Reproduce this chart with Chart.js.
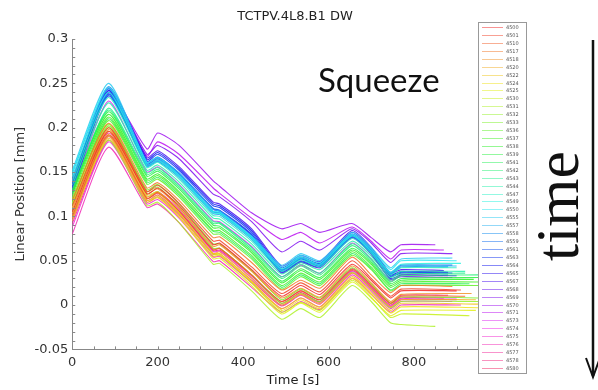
<!DOCTYPE html>
<html>
<head>
<meta charset="utf-8">
<script src="https://cdn.jsdelivr.net/npm/chart.js@4.4.1/dist/chart.umd.min.js"></script>
<style>
  body { margin: 0; background: #fff; }
  #wrap { width: 598px; height: 390px; }
</style>
</head>
<body>
<div id="wrap"><canvas id="posChart" width="598" height="390"></canvas></div>
<script>
// time stamps [s] shared by all fills; last point of each fill sits at endTimes[i]
const times = [0, 85, 175, 200, 250, 330, 345, 420, 490, 535, 580, 655, 700, 745, 770];
const endTimes = [900, 910, 920, 890, 935, 945, 950, 950, 945, 930, 850, 950, 950,
                  950, 950, 940, 950, 930, 950, 920,
                  920, 900, 910, 900, 890, 900, 880, 890,
                  880, 890, 880, 900, 870, 890, 890, 850, 870,
                  880, 900, 890, 910, 900, 880, 870];
const fillLabels = ['4500', '4501', '4510', '4517', '4518', '4520', '4522', '4524', '4525', '4530', '4531',
                    '4532', '4533', '4536', '4537', '4538', '4539', '4541', '4542', '4543', '4544', '4547',
                    '4549', '4550', '4555', '4557', '4558', '4559', '4561', '4563', '4564', '4565', '4567',
                    '4568', '4569', '4570', '4571', '4573', '4574', '4575', '4576', '4577', '4578', '4580'];
const xTickLabels = [0, 200, 400, 600, 800];
const yTickLabels = [-0.05, 0, 0.05, 0.1, 0.15, 0.2, 0.25, 0.3];

// linear position [mm], one row per fill (values at times[] then at endTimes[i])
const positions = [
  [0.105, 0.196, 0.125, 0.132, 0.112, 0.068, 0.070, 0.040, 0.010, 0.022, 0.012, 0.046, 0.028, 0.008, 0.016, 0.016],
  [0.112, 0.200, 0.128, 0.135, 0.115, 0.072, 0.073, 0.043, 0.013, 0.025, 0.015, 0.050, 0.030, 0.010, 0.018, 0.017],
  [0.100, 0.192, 0.120, 0.127, 0.106, 0.062, 0.064, 0.034, 0.004, 0.016, 0.006, 0.040, 0.022, 0.002, 0.010, 0.010],
  [0.118, 0.205, 0.132, 0.138, 0.118, 0.076, 0.077, 0.048, 0.017, 0.028, 0.019, 0.054, 0.034, 0.014, 0.022, 0.021],
  [0.108, 0.198, 0.126, 0.131, 0.110, 0.066, 0.068, 0.038, 0.008, 0.019, 0.009, 0.044, 0.025, 0.004, 0.012, 0.013],
  [0.098, 0.190, 0.118, 0.124, 0.103, 0.058, 0.060, 0.030, 0.000, 0.012, 0.002, 0.036, 0.018, -0.002, 0.006, 0.006],
  [0.095, 0.188, 0.116, 0.121, 0.100, 0.055, 0.056, 0.026, -0.004, 0.008, -0.002, 0.032, 0.014, -0.006, 0.002, 0.001],
  [0.110, 0.196, 0.122, 0.127, 0.104, 0.058, 0.058, 0.027, -0.006, 0.006, -0.004, 0.030, 0.012, -0.009, -0.002, -0.003],
  [0.104, 0.192, 0.118, 0.122, 0.099, 0.052, 0.053, 0.022, -0.010, 0.002, -0.008, 0.026, 0.008, -0.012, -0.006, -0.006],
  [0.115, 0.200, 0.124, 0.128, 0.104, 0.057, 0.057, 0.025, -0.008, 0.003, -0.006, 0.028, 0.009, -0.014, -0.010, -0.012],
  [0.100, 0.186, 0.112, 0.116, 0.093, 0.046, 0.047, 0.016, -0.016, -0.004, -0.014, 0.022, 0.004, -0.020, -0.022, -0.024],
  [0.120, 0.204, 0.128, 0.133, 0.110, 0.064, 0.064, 0.034, 0.002, 0.013, 0.004, 0.037, 0.018, -0.003, 0.004, 0.004],
  [0.113, 0.202, 0.130, 0.136, 0.114, 0.069, 0.069, 0.039, 0.006, 0.018, 0.008, 0.042, 0.024, 0.002, 0.009, 0.008],
  [0.118, 0.208, 0.136, 0.142, 0.122, 0.080, 0.080, 0.052, 0.018, 0.032, 0.022, 0.056, 0.040, 0.016, 0.022, 0.022],
  [0.122, 0.212, 0.140, 0.146, 0.126, 0.084, 0.084, 0.056, 0.022, 0.036, 0.026, 0.060, 0.043, 0.020, 0.026, 0.026],
  [0.125, 0.215, 0.142, 0.148, 0.128, 0.087, 0.087, 0.059, 0.025, 0.039, 0.029, 0.062, 0.046, 0.022, 0.028, 0.029],
  [0.128, 0.218, 0.145, 0.151, 0.131, 0.090, 0.089, 0.061, 0.027, 0.041, 0.031, 0.064, 0.048, 0.024, 0.030, 0.031],
  [0.115, 0.210, 0.138, 0.144, 0.124, 0.083, 0.082, 0.054, 0.020, 0.034, 0.024, 0.058, 0.041, 0.017, 0.024, 0.024],
  [0.130, 0.220, 0.147, 0.153, 0.133, 0.092, 0.092, 0.063, 0.030, 0.044, 0.034, 0.067, 0.050, 0.026, 0.033, 0.034],
  [0.126, 0.222, 0.149, 0.155, 0.135, 0.094, 0.093, 0.065, 0.032, 0.046, 0.036, 0.069, 0.052, 0.028, 0.035, 0.036],
  [0.135, 0.228, 0.152, 0.158, 0.139, 0.098, 0.097, 0.069, 0.035, 0.048, 0.040, 0.072, 0.055, 0.031, 0.038, 0.038],
  [0.140, 0.234, 0.155, 0.161, 0.142, 0.101, 0.100, 0.072, 0.038, 0.051, 0.043, 0.075, 0.058, 0.034, 0.042, 0.042],
  [0.145, 0.240, 0.158, 0.164, 0.145, 0.104, 0.103, 0.075, 0.041, 0.054, 0.046, 0.078, 0.061, 0.037, 0.046, 0.047],
  [0.150, 0.246, 0.160, 0.166, 0.147, 0.106, 0.105, 0.077, 0.043, 0.056, 0.048, 0.080, 0.063, 0.040, 0.050, 0.050],
  [0.152, 0.250, 0.161, 0.167, 0.149, 0.108, 0.106, 0.078, 0.045, 0.058, 0.050, 0.082, 0.065, 0.042, 0.052, 0.053],
  [0.148, 0.244, 0.157, 0.163, 0.146, 0.105, 0.104, 0.076, 0.040, 0.053, 0.045, 0.079, 0.060, 0.036, 0.044, 0.044],
  [0.143, 0.238, 0.156, 0.162, 0.144, 0.103, 0.102, 0.074, 0.039, 0.052, 0.044, 0.077, 0.059, 0.035, 0.043, 0.043],
  [0.138, 0.236, 0.157, 0.164, 0.146, 0.105, 0.104, 0.076, 0.040, 0.053, 0.046, 0.078, 0.061, 0.037, 0.045, 0.045],
  [0.130, 0.240, 0.160, 0.167, 0.149, 0.109, 0.107, 0.080, 0.038, 0.050, 0.044, 0.078, 0.060, 0.032, 0.036, 0.035],
  [0.132, 0.242, 0.162, 0.170, 0.152, 0.112, 0.110, 0.082, 0.040, 0.052, 0.046, 0.080, 0.062, 0.033, 0.037, 0.036],
  [0.134, 0.244, 0.164, 0.172, 0.154, 0.114, 0.112, 0.084, 0.042, 0.054, 0.047, 0.082, 0.063, 0.034, 0.038, 0.037],
  [0.128, 0.238, 0.159, 0.166, 0.148, 0.108, 0.106, 0.079, 0.037, 0.049, 0.043, 0.077, 0.058, 0.030, 0.034, 0.033],
  [0.136, 0.246, 0.166, 0.174, 0.156, 0.116, 0.114, 0.086, 0.044, 0.056, 0.049, 0.084, 0.065, 0.036, 0.040, 0.039],
  [0.126, 0.236, 0.158, 0.165, 0.148, 0.108, 0.106, 0.078, 0.036, 0.048, 0.042, 0.076, 0.057, 0.029, 0.032, 0.031],
  [0.138, 0.242, 0.170, 0.180, 0.165, 0.125, 0.122, 0.094, 0.060, 0.072, 0.062, 0.086, 0.070, 0.048, 0.058, 0.058],
  [0.140, 0.240, 0.176, 0.194, 0.180, 0.140, 0.134, 0.104, 0.086, 0.092, 0.082, 0.092, 0.076, 0.060, 0.068, 0.068],
  [0.134, 0.238, 0.168, 0.184, 0.170, 0.132, 0.126, 0.098, 0.074, 0.082, 0.070, 0.088, 0.072, 0.052, 0.062, 0.062],
  [0.125, 0.230, 0.150, 0.156, 0.136, 0.095, 0.094, 0.066, 0.032, 0.045, 0.036, 0.070, 0.052, 0.027, 0.034, 0.033],
  [0.095, 0.190, 0.118, 0.124, 0.104, 0.060, 0.061, 0.031, 0.000, 0.012, 0.003, 0.038, 0.019, -0.001, 0.007, 0.008],
  [0.088, 0.184, 0.114, 0.119, 0.098, 0.054, 0.055, 0.025, -0.004, 0.008, -0.002, 0.034, 0.016, -0.004, 0.004, 0.004],
  [0.080, 0.178, 0.110, 0.114, 0.093, 0.049, 0.050, 0.020, -0.008, 0.004, -0.005, 0.030, 0.012, -0.008, 0.000, 0.000],
  [0.092, 0.186, 0.116, 0.122, 0.102, 0.057, 0.058, 0.028, -0.001, 0.011, 0.001, 0.036, 0.018, -0.002, 0.006, 0.006],
  [0.102, 0.194, 0.122, 0.128, 0.108, 0.063, 0.064, 0.034, 0.004, 0.016, 0.006, 0.041, 0.022, 0.002, 0.011, 0.011],
  [0.097, 0.191, 0.120, 0.126, 0.106, 0.061, 0.062, 0.033, 0.002, 0.014, 0.004, 0.039, 0.020, 0.000, 0.008, 0.008]
];

const FONT = 'DejaVu Sans';
const n = positions.length;

// rainbow colour order like the legend: red -> yellow -> green -> cyan -> blue -> magenta -> red
function lineColor(i, a) {
  const hue = i / n * 350;
  let light = 55;
  if (hue > 40 && hue < 75) light = 52;
  if (hue > 205 && hue < 290) light = 50;
  return `hsla(${hue.toFixed(0)}, 88%, ${light}%, ${a})`;
}

const datasets = positions.map((vals, i) => ({
  label: fillLabels[i],
  data: vals.map((v, k) => ({ x: k < times.length ? times[k] : endTimes[i], y: v })),
  borderColor: lineColor(i, 0.85),
  borderWidth: 1.1,
  pointRadius: 0,
  tension: 0.2,
  fill: false
}));

// inward minor ticks (matlab style), legend box, annotations
const extras = {
  id: 'extras',
  afterDraw(chart) {
    const c = chart.ctx;
    const area = chart.chartArea;
    const xs = chart.scales.x, ys = chart.scales.y;
    c.save();
    c.strokeStyle = '#888';
    c.lineWidth = 1;
    xs.ticks.forEach(t => {
      const px = Math.round(xs.getPixelForValue(t.value)) + 0.5;
      c.beginPath(); c.moveTo(px, area.bottom); c.lineTo(px, area.bottom - 3); c.stroke();
    });
    ys.ticks.forEach(t => {
      const py = Math.round(ys.getPixelForValue(t.value)) + 0.5;
      c.beginPath(); c.moveTo(area.left, py); c.lineTo(area.left + 3, py); c.stroke();
    });

    // title and x-axis title
    c.fillStyle = '#222';
    c.font = `13px "${FONT}"`;
    c.textAlign = 'center';
    c.textBaseline = 'middle';
    c.fillText('TCTPV.4L8.B1 DW', 295, 17);
    c.fillText('Time [s]', 293, 381);

    // legend box
    const lx = 478, ly = 22, lw = 48, lh = 351;
    c.fillStyle = '#fff';
    c.fillRect(lx, ly, lw, lh);
    c.strokeStyle = '#999';
    c.strokeRect(lx + 0.5, ly + 0.5, lw, lh);
    const step = (lh - 10) / (n - 1);
    c.font = `5px "${FONT}"`;
    c.textAlign = 'left';
    chart.data.datasets.forEach((ds, i) => {
      const y = Math.round(ly + 5 + i * step) + 0.5;
      c.strokeStyle = lineColor(i, 0.5);
      c.beginPath(); c.moveTo(lx + 4, y); c.lineTo(lx + 25, y); c.stroke();
      c.fillStyle = '#555';
      c.fillText(ds.label, lx + 28, y);
    });

    // "Squeeze" annotation
    c.fillStyle = '#111';
    c.font = '33px Lato';
    c.textAlign = 'left';
    c.textBaseline = 'alphabetic';
    c.fillText('Squeeze', 318, 92);

    // "time" with downward arrow
    c.save();
    c.translate(578, 206);
    c.rotate(-Math.PI / 2);
    c.font = '62px "Liberation Serif"';
    c.textAlign = 'center';
    c.fillText('time', 0, 0);
    c.restore();
    c.strokeStyle = '#111';
    c.lineWidth = 2.5;
    c.beginPath(); c.moveTo(593, 40); c.lineTo(593, 376); c.stroke();
    c.lineWidth = 2;
    c.beginPath(); c.moveTo(586, 358); c.lineTo(593, 377); c.lineTo(600, 358); c.stroke();
    c.restore();
  }
};

new Chart(document.getElementById('posChart'), {
  type: 'line',
  data: { datasets },
  plugins: [extras],
  options: {
    responsive: false,
    animation: false,
    layout: { padding: { left: 13, right: 120, top: 39, bottom: 15 } },
    plugins: { legend: { display: false }, title: { display: false }, tooltip: { enabled: false } },
    scales: {
      x: {
        type: 'linear',
        min: 0,
        max: 950,
        grid: { display: false, drawTicks: false },
        border: { color: '#888' },
        ticks: {
          stepSize: 50,
          autoSkip: false,
          maxRotation: 0,
          padding: 5,
          color: '#333',
          font: { family: FONT, size: 13 },
          callback: v => xTickLabels.includes(v) ? String(v) : ''
        }
      },
      y: {
        min: -0.05,
        max: 0.3,
        grid: { display: false, drawTicks: false },
        border: { color: '#888' },
        title: {
          display: true,
          text: 'Linear Position [mm]',
          color: '#333',
          font: { family: FONT, size: 13 },
          padding: { top: 0, bottom: 2 }
        },
        ticks: {
          stepSize: 0.01,
          autoSkip: false,
          padding: 4,
          color: '#333',
          font: { family: FONT, size: 13 },
          callback: v => {
            const hit = yTickLabels.find(t => Math.abs(t - v) < 1e-6);
            return hit === undefined ? '' : String(hit);
          }
        }
      }
    }
  }
});
</script>
</body>
</html>
